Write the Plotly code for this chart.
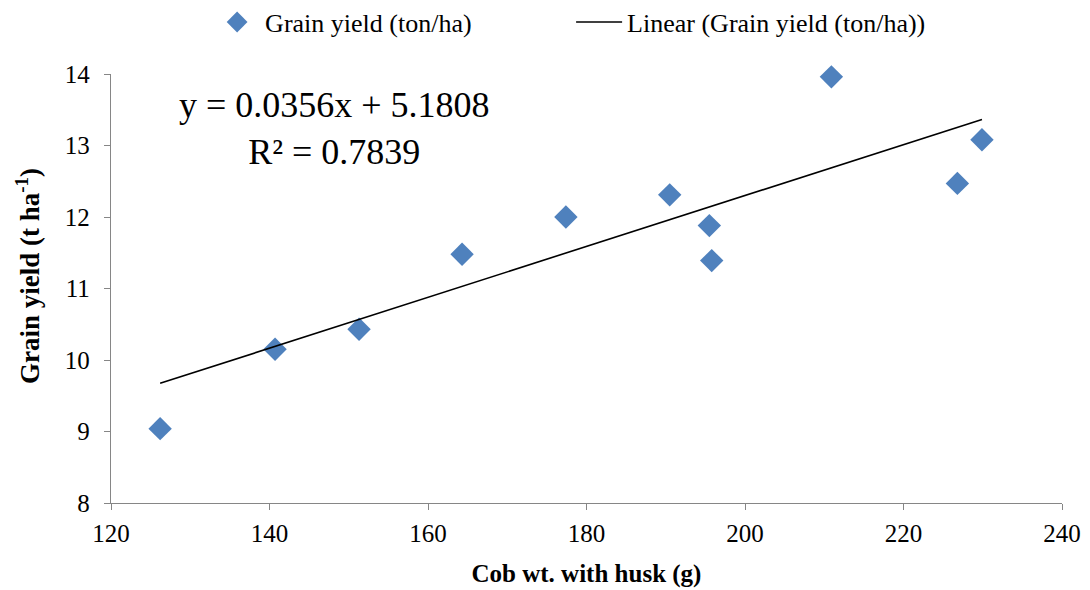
import plotly.graph_objects as go

cob_wt = [126.2, 140.7, 151.3, 164.3, 177.4, 190.5, 195.5, 195.8, 210.9, 226.8, 229.9]
grain_yield = [9.04, 10.15, 10.43, 11.48, 12.0, 12.31, 11.88, 11.39, 13.96, 12.47, 13.08]
slope = 0.0356
intercept = 5.1808
r2 = 0.7839

x_min, x_max = min(cob_wt), max(cob_wt)
trend_x = [x_min, x_max]
trend_y = [slope * v + intercept for v in trend_x]

font_family = "Liberation Serif"

fig = go.Figure()
fig.add_trace(go.Scatter(
    x=cob_wt, y=grain_yield, mode="markers", name="Grain yield (ton/ha)",
    marker=dict(symbol="diamond", size=18, color="#4F81BD"),
    cliponaxis=False,
))
fig.add_trace(go.Scatter(
    x=trend_x, y=trend_y, mode="lines", name="Linear (Grain yield (ton/ha))",
    line=dict(color="black", width=1.6),
    cliponaxis=False,
))

fig.add_annotation(
    x=0.2355, y=0.872, xref="paper", yref="paper", xanchor="center", yanchor="middle",
    text=f"y = {slope}x + {intercept}<br>R² = {r2}", align="center",
    showarrow=False, font=dict(family=font_family, size=36, color="black"),
)
fig.add_annotation(
    x=-0.0873, y=0.529, xref="paper", yref="paper", xanchor="center", yanchor="middle",
    text="<b>Grain yield (t ha<sup>-1</sup>)</b>", textangle=-90,
    showarrow=False, font=dict(family=font_family, size=27, color="black"),
)

axis_common = dict(
    showgrid=False, zeroline=False, showline=True, linecolor="#868686", linewidth=1.3,
    ticks="outside", tickcolor="#868686", ticklen=6, tickwidth=1.3,
    tickfont=dict(family=font_family, size=25, color="black"),
)

fig.update_layout(
    width=1090, height=590,
    paper_bgcolor="white", plot_bgcolor="white",
    margin=dict(l=103, r=36, t=66, b=95, autoexpand=False),
    font=dict(family=font_family, color="black", size=25),
    xaxis=dict(range=[120, 240], dtick=20, ticklabelstandoff=2, **axis_common,
               title=dict(text="<b>Cob wt. with husk (g)</b>", font=dict(family=font_family, size=25), standoff=18)),
    yaxis=dict(range=[8, 14], dtick=1, ticklabelstandoff=9, **axis_common),
    legend=dict(orientation="h", xref="container", x=0.1845, xanchor="left", yref="paper", y=1.121, yanchor="middle",
                font=dict(family=font_family, size=26), itemwidth=46, entrywidth=301),
    showlegend=True,
)

fig.write_html("out.html")
